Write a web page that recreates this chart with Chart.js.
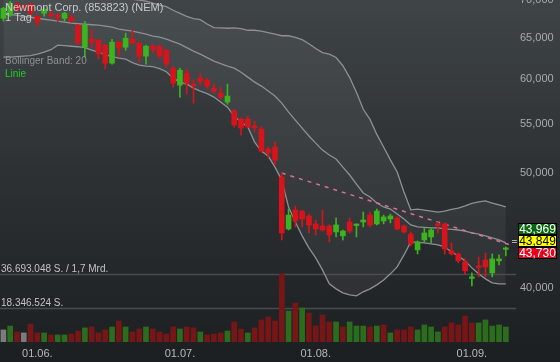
<!DOCTYPE html>
<html>
<head>
<meta charset="utf-8">
<script src="https://cdn.jsdelivr.net/npm/chart.js@4.4.1/dist/chart.umd.min.js"></script>
<style>
html,body{margin:0;padding:0;background:#1c1f22;overflow:hidden;}
canvas{display:block;}
</style>
</head>
<body>
<canvas id="chart" width="560" height="362"></canvas>
<script>
// ---------- texts ----------
const title = 'Newmont Corp. (853823) (NEM)';
const period = '1 Tag';
const indicatorLabel = 'Bollinger Band: 20';
const lineLabel = 'Linie';
const turnover = '1,7 Mrd.';

// ---------- categories (trading days, last slot empty) ----------
const dates = ['24.05.','25.05.','26.05.','27.05.','31.05.',
'01.06.','02.06.','03.06.','06.06.','07.06.','08.06.','09.06.','10.06.','13.06.','14.06.','15.06.','16.06.','17.06.','21.06.','22.06.','23.06.','24.06.','27.06.','28.06.','29.06.','30.06.',
'01.07.','05.07.','06.07.','07.07.','08.07.','11.07.','12.07.','13.07.','14.07.','15.07.','18.07.','19.07.','20.07.','21.07.','22.07.','25.07.','26.07.','27.07.','28.07.','29.07.',
'01.08.','02.08.','03.08.','04.08.','05.08.','08.08.','09.08.','10.08.','11.08.','12.08.','15.08.','16.08.','17.08.','18.08.','19.08.','22.08.','23.08.','24.08.','25.08.','26.08.','29.08.','30.08.','31.08.',
'01.09.','02.09.','06.09.','07.09.','08.09.','09.09.','12.09.'];
const dateTickLabels = ['01.06.','01.07.','01.08.','01.09.'];

// ---------- price series (EUR) ----------
const open = [67.55,67.95,69.43,69.10,69.43,67.82,68.22,68.00,67.95,67.56,
67.69,66.65,63.86,64.86,64.74,64.11,61.91,64.49,63.86,64.86,
64.36,62.76,63.98,63.98,63.49,61.31,59.32,60.71,59.38,60.13,
59.90,58.98,58.41,57.40,56.40,55.53,55.53,54.78,54.46,52.38,
52.59,49.61,44.85,46.53,46.44,46.00,45.29,45.11,45.11,44.59,
44.25,45.46,45.15,45.46,46.08,45.29,45.55,45.73,45.82,45.11,
44.41,43.06,43.90,44.16,45.24,45.29,42.97,42.72,42.07,40.74,
41.70,42.23,41.18,42.15,43.10];
const high = [69.02,69.80,69.70,69.40,69.56,67.95,69.02,68.62,68.22,68.35,
68.08,66.78,67.17,66.14,64.86,64.24,64.86,64.61,65.62,66.01,
64.49,64.11,64.24,64.11,63.61,61.55,61.31,61.19,59.90,60.71,
60.13,59.44,59.09,59.44,56.62,55.64,55.85,55.31,54.68,52.59,
53.10,50.00,46.62,46.90,46.50,46.17,45.64,46.53,45.20,45.82,
44.76,45.82,45.30,46.35,46.35,46.62,46.08,46.17,45.91,45.20,
44.59,43.82,44.94,44.94,45.46,45.38,43.65,42.81,42.31,41.18,
42.47,42.81,42.72,42.64,43.31];
const low = [67.17,67.80,68.50,68.60,67.95,66.52,67.82,67.56,67.04,67.17,
67.04,64.24,62.64,63.86,62.39,61.19,61.79,62.76,63.49,64.30,
62.03,61.79,63.12,62.52,61.43,59.09,57.96,58.29,57.28,59.32,
58.98,58.41,57.73,57.17,54.68,53.83,54.62,54.14,52.08,51.48,
50.78,43.90,44.76,45.03,45.03,44.50,44.33,44.67,43.73,44.16,
43.90,44.50,44.16,45.03,45.03,45.20,45.29,45.38,44.76,44.50,
43.39,42.72,43.73,43.65,44.50,42.72,42.64,41.99,41.10,40.15,
40.86,40.86,40.86,41.82,42.56];
const close = [68.89,69.56,68.75,69.00,68.22,67.04,68.75,67.90,67.69,68.22,
67.17,64.36,66.65,64.49,63.00,61.91,64.49,63.74,64.99,64.36,
62.76,63.98,63.61,62.76,61.79,59.55,61.07,59.55,59.25,59.78,
59.21,58.63,57.96,58.07,54.89,54.57,54.68,54.62,52.18,51.98,
51.28,44.50,46.08,45.55,45.73,45.20,44.85,44.76,44.33,45.20,
44.67,44.67,45.24,45.64,45.20,46.44,45.91,46.00,44.85,44.59,
43.56,43.73,44.50,44.76,45.16,43.14,42.72,42.15,41.34,40.82,
41.62,41.66,42.31,42.31,43.18];

// ---------- volume (shares) and direction vs previous close ----------
const volume = [6500000,8600000,5400000,4900000,9700000,4900000,4900000,3800000,3800000,3800000,
4300000,5900000,7600000,8100000,4900000,6500000,8100000,11300000,8100000,5400000,
7000000,8100000,7000000,5400000,4300000,8100000,7000000,8100000,7600000,5400000,
3800000,4300000,4900000,5900000,10800000,7000000,4900000,7600000,11900000,13500000,
11300000,36693048,16700000,21000000,18300000,15600000,8600000,14600000,10800000,10800000,
8100000,10800000,8600000,8600000,8100000,8600000,9200000,4900000,6500000,6500000,
8100000,6500000,9200000,8100000,5400000,8100000,10300000,9200000,14000000,10300000,
10300000,11900000,8600000,9200000,8100000];
const volumeDir = ['n','u','d','n','d','d','u','d','u','u',
'd','d','u','d','d','d','u','d','u','d',
'd','u','d','d','d','d','u','d','d','u',
'd','d','d','u','d','d','u','d','d','d',
'd','d','u','d','u','d','d','d','d','u',
'd','u','u','u','d','u','d','u','d','d',
'd','u','u','u','u','d','d','d','d','d',
'u','u','u','u','u'];

// ---------- Bollinger band (20) ----------
const bbUpper = [74.06,73.52,73.20,72.88,72.56,72.12,71.61,71.30,71.00,70.90,
70.80,70.70,70.60,70.60,70.50,70.50,70.40,70.30,70.20,70.10,
70.00,69.85,69.56,69.30,69.10,68.62,68.20,67.80,67.50,67.37,
66.81,66.34,66.30,66.26,66.30,66.20,66.00,66.00,65.90,65.70,
65.50,65.30,65.30,65.10,64.80,64.30,63.70,63.20,63.00,62.60,
61.60,60.20,58.50,56.60,55.50,53.90,52.60,51.30,50.10,48.20,
46.55,46.62,46.53,46.44,46.35,46.44,46.58,46.71,46.90,47.13,
47.27,47.36,47.17,46.99,46.81];
const bbMiddle = [68.35,68.08,67.95,67.82,67.69,67.56,67.43,67.30,67.17,67.04,
66.91,66.84,66.78,66.71,66.65,66.52,66.39,66.14,66.01,65.88,
65.69,65.50,65.24,65.12,64.86,64.55,64.24,63.80,63.37,63.00,
62.58,62.15,61.85,61.55,61.31,60.83,60.25,59.67,59.21,58.64,
58.07,57.28,56.29,55.42,54.57,53.73,53.00,52.28,51.78,51.38,
50.58,49.81,48.94,48.10,47.73,47.17,46.81,46.62,46.17,45.73,
45.20,45.03,44.98,44.94,44.94,44.85,44.81,44.76,44.67,44.50,
44.41,44.24,44.07,43.90,43.65];
const bbLower = [62.64,62.64,62.70,62.76,62.82,63.00,63.25,63.55,64.11,64.05,
63.98,63.92,63.80,63.49,63.25,62.94,62.70,62.52,62.39,61.97,
61.67,61.55,61.49,61.25,60.89,60.13,59.67,59.44,58.98,58.63,
58.35,57.96,57.40,56.84,55.85,55.21,54.68,53.10,52.18,51.68,
50.58,49.32,46.81,45.46,44.25,43.23,42.39,41.42,40.31,39.92,
39.61,39.46,39.38,39.69,39.92,40.23,40.62,41.10,41.66,42.64,
43.73,43.69,43.65,43.56,43.48,43.31,42.89,42.56,42.15,41.58,
41.10,40.70,40.39,40.31,40.31];

// ---------- trend line ("Linie") ----------
const trendStartIndex = 41, trendStartValue = 50.00;
const trendEndIndex = 75, trendEndValue = 43.42;

// ---------- axis ticks and quotes ----------
const priceTicks = [40, 50, 55, 60, 65, 70];
const priceMin = 36.0, priceMax = 70.0;
const quotes = [43.969, 43.849, 43.730];

// ---------- helpers / styles ----------
const FONT = '"Liberation Sans", Arial, sans-serif';
Chart.defaults.font.family = FONT;
const GREEN = '#3cb41f', RED = '#d7141b', BAND = '#8d9093';
const VOL = {u: '#2c6c1d', d: '#761617', n: '#7a7b7c'};
const fmtPrice = v => Number(v).toLocaleString('de-DE', {minimumFractionDigits: 3, maximumFractionDigits: 3});
const fmtInt = v => Number(v).toLocaleString('de-DE');
const isUp = i => close[i] >= open[i];
const volMax = Math.max(...volume);
const trendData = dates.map((d, i) => i === trendStartIndex ? trendStartValue : (i === trendEndIndex ? trendEndValue : null));

const bgPlugin = {
  id: 'bg',
  beforeDraw(chart) {
    const {ctx, width, height} = chart;
    const g = ctx.createLinearGradient(0, 0, 0, height);
    g.addColorStop(0, '#3f4447');
    g.addColorStop(0.45, '#2e3235');
    g.addColorStop(0.8, '#232629');
    g.addColorStop(1, '#1c1f22');
    ctx.save();
    ctx.fillStyle = g;
    ctx.fillRect(0, 0, width, height);
    ctx.restore();
  },
  beforeDatasetsDraw(chart) {
    const {ctx, chartArea} = chart;
    const yv = chart.scales.yv;
    ctx.save();
    ctx.strokeStyle = '#474c50';
    ctx.lineWidth = 1.5;
    [volMax, volMax / 2].forEach(v => {
      const y = Math.round(yv.getPixelForValue(v)) + 0.5;
      ctx.beginPath();
      ctx.moveTo(chartArea.left, y);
      ctx.lineTo(chartArea.right, y);
      ctx.stroke();
    });
    ctx.restore();
  },
  afterDraw(chart) {
    const {ctx} = chart;
    const yv = chart.scales.yv, yp = chart.scales.y;
    ctx.save();
    ctx.textAlign = 'left';
    ctx.textBaseline = 'alphabetic';
    // volume labels
    ctx.font = '10px ' + FONT;
    ctx.fillStyle = '#c2c4c6';
    ctx.fillText(fmtInt(volMax) + ' S. / ' + turnover, 1, Math.round(yv.getPixelForValue(volMax)) - 2);
    ctx.fillText(fmtInt(volMax / 2) + ' S.', 1, Math.round(yv.getPixelForValue(volMax / 2)) - 2);
    // title
    ctx.font = '11px ' + FONT;
    ctx.fillStyle = '#c6c8ca';
    ctx.fillText(title, 5, 11);
    ctx.fillText(period, 5, 21);
    ctx.font = '10px ' + FONT;
    ctx.fillStyle = '#8e9194';
    ctx.fillText(indicatorLabel, 5, 64);
    ctx.fillStyle = '#22cc22';
    ctx.fillText(lineLabel, 5, 77);
    // quote boxes
    const cy = yp.getPixelForValue(quotes[1]);
    const boxes = [
      [quotes[0], '#0b6512', '#ffffff', cy - 18],
      [quotes[1], '#ffff00', '#000000', cy - 6],
      [quotes[2], '#e0081f', '#ffffff', cy + 6]
    ];
    const bx = 518, bw = 39, bh = 12;
    ctx.font = '12px ' + FONT;
    ctx.textAlign = 'center';
    ctx.textBaseline = 'middle';
    boxes.forEach(([v, bg, fg, top]) => {
      top = Math.round(top);
      ctx.fillStyle = bg;
      ctx.fillRect(bx, top, bw, bh);
      ctx.strokeStyle = '#000';
      ctx.lineWidth = 1;
      ctx.strokeRect(bx + 0.5, top + 0.5, bw - 1, bh - 1);
      ctx.fillStyle = fg;
      ctx.fillText(fmtPrice(v), bx + bw / 2, top + bh / 2 + 0.5);
    });
    // current price marker
    ctx.fillStyle = '#a9abad';
    ctx.fillRect(512, Math.round(cy) - 1, 5, 1);
    ctx.fillRect(512, Math.round(cy) + 1, 5, 1);
    ctx.restore();
  }
};

new Chart(document.getElementById('chart'), {
  type: 'bar',
  data: {
    labels: dates,
    datasets: [
      { type: 'bar', label: 'body', data: open.map((o, i) => [o, close[i]]), yAxisID: 'y', order: 0,
        grouped: false, barThickness: 5, minBarLength: 1.5, borderWidth: 0,
        backgroundColor: c => isUp(c.dataIndex) ? GREEN : RED },
      { type: 'bar', label: 'wick', data: low.map((l, i) => [l, high[i]]), yAxisID: 'y', order: 1,
        grouped: false, barThickness: 1, borderWidth: 0,
        backgroundColor: c => isUp(c.dataIndex) ? GREEN : RED },
      { type: 'line', label: lineLabel, data: trendData, yAxisID: 'y', order: 2,
        borderColor: '#d8709f', borderWidth: 1.5, borderDash: [4, 5], pointRadius: 0, spanGaps: true, fill: false },
      { type: 'line', label: 'upper', data: bbUpper, yAxisID: 'y', order: 3,
        borderColor: BAND, borderWidth: 1.3, pointRadius: 0, tension: 0,
        fill: {target: 5}, backgroundColor: 'rgba(255,255,255,0.055)' },
      { type: 'line', label: 'middle', data: bbMiddle, yAxisID: 'y', order: 3,
        borderColor: BAND, borderWidth: 1.3, pointRadius: 0, tension: 0, fill: false },
      { type: 'line', label: 'lower', data: bbLower, yAxisID: 'y', order: 3,
        borderColor: BAND, borderWidth: 1.3, pointRadius: 0, tension: 0, fill: false },
      { type: 'bar', label: 'volume', data: volume, yAxisID: 'yv', order: 5,
        grouped: false, barThickness: 5, borderWidth: 0,
        backgroundColor: c => VOL[volumeDir[c.dataIndex]] }
    ]
  },
  options: {
    responsive: false,
    animation: false,
    devicePixelRatio: 1,
    events: [],
    layout: {padding: 0},
    plugins: {
      legend: {display: false},
      tooltip: {enabled: false},
      filler: {drawTime: 'beforeDatasetsDraw'}
    },
    scales: {
      x: {
        type: 'category',
        grid: {display: false, drawTicks: false},
        border: {display: false},
        ticks: {
          autoSkip: false, maxRotation: 0, color: '#b6b8ba', font: {size: 11}, padding: 5,
          callback: (v, i) => dateTickLabels.includes(dates[i]) ? dates[i] : ''
        },
        afterFit: s => { s.height = 20; s.paddingLeft = 0; s.paddingRight = 0; }
      },
      y: {
        type: 'logarithmic',
        position: 'right',
        min: priceMin, max: priceMax,
        grid: {display: false, drawTicks: false},
        border: {display: false},
        afterBuildTicks: s => { s.ticks = priceTicks.map(v => ({value: v})); },
        ticks: {autoSkip: false, color: '#a9abad', font: {size: 11}, padding: 4, callback: v => fmtPrice(v)},
        afterFit: s => { s.width = 44; s.paddingTop = 0; s.paddingBottom = 0; }
      },
      yv: {
        type: 'linear',
        display: false,
        min: 0,
        max: volMax / 0.199
      }
    }
  },
  plugins: [bgPlugin]
});
</script>
</body>
</html>
